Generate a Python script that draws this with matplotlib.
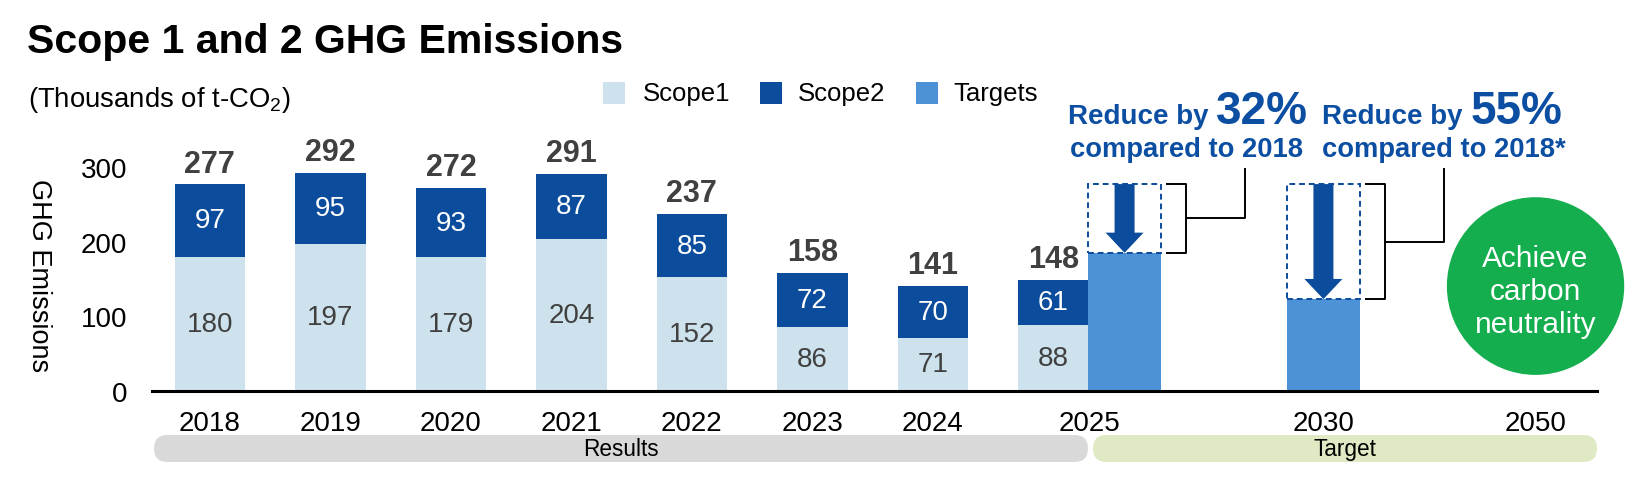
import matplotlib
matplotlib.use("Agg")
import matplotlib.pyplot as plt
from matplotlib.patches import Rectangle, FancyArrow, Ellipse, FancyBboxPatch
from matplotlib.transforms import IdentityTransform

plt.rcParams['font.family'] = ['Liberation Sans', 'DejaVu Sans']
plt.rcParams['mathtext.fontset'] = 'custom'
plt.rcParams['mathtext.rm'] = 'Liberation Sans'

# ---------------- data ----------------
years = ['2018', '2019', '2020', '2021', '2022', '2023', '2024', '2025']
scope1 = [180, 197, 179, 204, 152, 86, 71, 88]
scope2 = [97, 95, 93, 87, 85, 72, 70, 61]
totals = [277, 292, 272, 291, 237, 158, 141, 148]
target_years = ['2025', '2030']
target_values = [185, 123]
target_reductions = ['32%', '55%']
base_2018 = 277
tick_labels = ['2018', '2019', '2020', '2021', '2022', '2023', '2024', '2025', '2030', '2050']
y_ticks = [0, 100, 200, 300]

# ---------------- style ----------------
C1 = '#cde2ec'
C2 = '#0b4c9c'
C3 = '#4d91d6'
BLUE_TXT = '#0b4ea2'
GREEN = '#14ae4e'
GRAY_TXT = '#404040'

W, H = 1646, 481
fig = plt.figure(figsize=(W / 100, H / 100), dpi=100)
ax = fig.add_axes([152 / W, (H - 392) / H, (1597 - 152) / W, 246.5 / H])
ax.set_xlim(-0.48, 11.51)
ax.set_ylim(0, 330)

# positions (layout)
x_res = list(range(len(years)))
bw = 0.585
x_tgt = [7.59, 9.24]
x_2050 = 11.0
tick_pos = x_res[:7] + [7.30, x_tgt[1], x_2050]

ax.bar(x_res, scope1, width=bw, color=C1, zorder=2)
ax.bar(x_res, scope2, bottom=scope1, width=bw, color=C2, zorder=2)
ax.bar(x_tgt, target_values, width=0.6, color=C3, zorder=2)

for x, s1, s2, t in zip(x_res, scope1, scope2, totals):
    ax.text(x, s1 / 2, str(s1), ha='center', va='center', fontsize=20, color=GRAY_TXT, zorder=3)
    ax.text(x, s1 + s2 / 2, str(s2), ha='center', va='center', fontsize=20, color='white', zorder=3)
    ax.annotate(str(t), (x, s1 + s2), xytext=(0, 4), textcoords='offset points',
                ha='center', va='bottom', fontsize=22, fontweight='bold', color=GRAY_TXT)

# dashed boxes, arrows, brackets
for x, v in zip(x_tgt, target_values):
    ax.add_patch(Rectangle((x - 0.3, v), 0.6, base_2018 - v, fill=False, ec=C2,
                           lw=1.4, ls=(0, (3, 2)), zorder=3))
    ax.add_patch(FancyArrow(x, base_2018, 0, -(base_2018 - v), width=0.166, head_width=0.315,
                            head_length=27, length_includes_head=True, color=C2, lw=0, zorder=4))
    bx = x + 0.51
    tx = x + 0.345
    mid = (base_2018 + v) / 2
    kw = dict(color='black', lw=1.4, clip_on=False, solid_capstyle='butt')
    ax.plot([tx, bx, bx, tx], [base_2018, base_2018, v, v], **kw)
    ax.plot([bx, x + 1.0, x + 1.0], [mid, mid, 298], **kw)

# carbon neutrality circle
ax.add_patch(Ellipse((x_2050, 140.5), width=2 * 0.73, height=2 * 118, color=GREEN,
                     clip_on=False, zorder=2))
ax.text(x_2050, 134, 'Achieve\ncarbon\nneutrality', ha='center', va='center',
        fontsize=21.5, color='white', linespacing=1.22, zorder=3)

# axes styling
for s in ['top', 'right', 'left']:
    ax.spines[s].set_visible(False)
ax.spines['bottom'].set_linewidth(2.2)
ax.spines['bottom'].set_color('black')
ax.spines['bottom'].set_zorder(5)
ax.set_yticks(y_ticks)
ax.tick_params(axis='y', length=0, pad=18, labelsize=20)
ax.set_xticks(tick_pos)
ax.set_xticklabels(tick_labels)
ax.tick_params(axis='x', length=0, pad=13.5, labelsize=20)


def fx(px):
    return px / W


def fy(py):
    return 1 - py / H


# title / subtitle / y-label
fig.text(fx(27), fy(53), 'Scope 1 and 2 GHG Emissions', fontsize=29.5, fontweight='bold',
         va='baseline', ha='left')
fig.text(fx(28), fy(107), r'(Thousands of t-CO$_\mathrm{2}$)', fontsize=19.8, va='baseline', ha='left')
fig.text(fx(39), fy(276), 'GHG Emissions', rotation=270, ha='center', va='center', fontsize=19.5)

# legend (manual)
for sq_x, txt_x, col, lab in [(603, 643, C1, 'Scope1'), (760, 798, C2, 'Scope2'),
                              (916, 953, C3, 'Targets')]:
    fig.add_artist(Rectangle((sq_x, H - 105), 22, 22, transform=IdentityTransform(),
                             fc=col, ec='none'))
    fig.text(txt_x, H - 94, lab, transform=IdentityTransform(), fontsize=18.5,
             va='center', ha='left')

# reduction annotations
for junction, pct in zip([1211, 1466], target_reductions):
    fig.text(fx(junction - 3), fy(124), 'Reduce by', fontsize=20, fontweight='bold',
             color=BLUE_TXT, ha='right', va='baseline')
    fig.text(fx(junction + 5), fy(124), pct, fontsize=33, fontweight='bold',
             color=BLUE_TXT, ha='left', va='baseline')
fig.text(fx(1186), fy(157), 'compared to 2018', fontsize=19.7, fontweight='bold',
         color=BLUE_TXT, ha='center', va='baseline')
fig.text(fx(1444), fy(157), 'compared to 2018*', fontsize=19.7, fontweight='bold',
         color=BLUE_TXT, ha='center', va='baseline')

# bottom pills
for x0, x1, col, lab in [(154, 1088, '#d9d9d9', 'Results'), (1093, 1597, '#dfe9c3', 'Target')]:
    fig.add_artist(FancyBboxPatch((x0, H - 463), x1 - x0, 27,
                                  boxstyle='round,pad=0,rounding_size=13.5',
                                  transform=IdentityTransform(), fc=col, ec='none'))
    fig.text((x0 + x1) / 2, H - 449.5, lab, transform=IdentityTransform(), fontsize=16.3,
             ha='center', va='center')

fig.savefig('out.png', dpi=100, facecolor='white')
